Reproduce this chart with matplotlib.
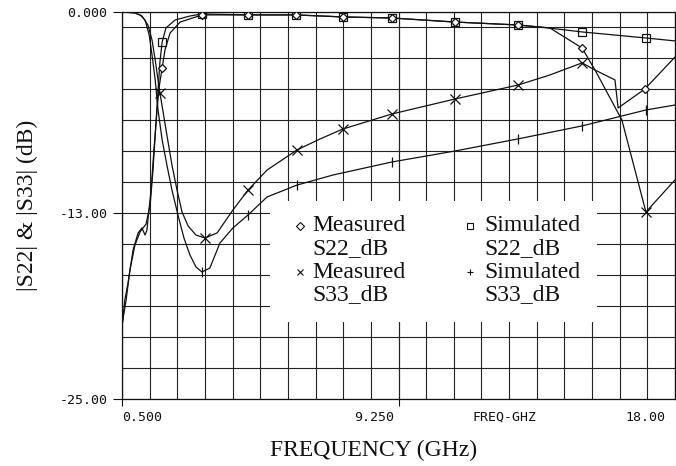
import numpy as np
import matplotlib
matplotlib.use("Agg")
import matplotlib.pyplot as plt
from matplotlib.patches import Rectangle

# traces (frequency in GHz, level in dB)
meas_s22_f = [0.50, 0.59, 0.69, 0.85, 1.01, 1.13, 1.23, 1.29, 1.32, 1.42, 1.51, 1.61, 1.67,
              1.77, 1.86, 2.02, 2.34, 3.03, 4.49, 6.00, 7.49, 9.04, 11.04, 13.03, 14.04,
              15.06, 15.47, 16.10, 16.20, 17.05, 18.0]
meas_s22_db = [-20.35, -18.60, -17.51, -15.37, -14.27, -13.95, -14.41, -14.08, -13.44, -11.50,
               -8.91, -6.33, -4.91, -3.62, -2.45, -1.36, -0.65, -0.19, -0.19, -0.19, -0.32,
               -0.39, -0.65, -0.84, -1.03, -2.33, -3.75, -4.39, -6.20, -4.97, -2.91]

sim_s22_f = [0.50, 0.63, 0.75, 0.91, 1.07, 1.26, 1.39, 1.48, 1.58, 1.64, 1.70, 1.77, 1.89,
             2.18, 2.65, 3.03, 4.49, 6.00, 7.49, 9.04, 11.04, 13.03, 13.98, 15.06, 17.08, 18.0]
sim_s22_db = [-20.22, -18.60, -16.67, -15.05, -14.21, -13.70, -12.47, -10.21, -6.98, -5.04,
              -3.23, -1.94, -1.03, -0.52, -0.26, -0.13, -0.19, -0.19, -0.32, -0.39, -0.65,
              -0.84, -1.03, -1.29, -1.68, -1.87]

meas_s33_f = [0.50, 0.91, 1.13, 1.32, 1.45, 1.55, 1.64, 1.70, 1.80, 1.92, 2.08, 2.24, 2.40,
              2.59, 2.84, 3.13, 3.51, 4.01, 4.49, 5.09, 6.04, 6.77, 7.49, 9.04, 11.04, 13.03,
              14.04, 15.06, 15.47, 16.32, 17.08, 18.0]
meas_s33_db = [0.0, -0.06, -0.26, -0.84, -1.81, -3.10, -4.39, -5.23, -6.46, -7.95, -9.88,
               -11.50, -12.92, -13.82, -14.41, -14.60, -14.27, -12.79, -11.50, -10.21, -8.91,
               -8.20, -7.56, -6.59, -5.62, -4.72, -4.07, -3.29, -3.75, -6.98, -12.92, -10.85]

sim_s33_f = [0.50, 0.91, 1.07, 1.23, 1.36, 1.45, 1.55, 1.64, 1.77, 1.92, 2.08, 2.27, 2.46,
             2.65, 2.84, 3.03, 3.28, 3.60, 4.01, 4.49, 5.09, 6.04, 7.18, 9.04, 11.04, 13.03,
             15.06, 17.08, 18.0]
sim_s33_db = [0.0, -0.06, -0.19, -0.52, -1.49, -2.78, -4.39, -6.33, -8.27, -9.88, -11.50,
              -13.11, -14.60, -15.70, -16.47, -16.80, -16.54, -14.92, -13.95, -13.11, -11.95,
              -11.18, -10.53, -9.69, -8.98, -8.20, -7.36, -6.33, -6.01]

# frequencies where the plotter put its markers
meas_s22_mk = [1.77, 3.03, 4.49, 6.00, 7.49, 9.04, 11.04, 13.03, 15.06, 17.05]
sim_s22_mk = [1.77, 3.03, 4.49, 6.00, 7.49, 9.04, 11.04, 13.03, 15.06, 17.08]
meas_s33_mk = [1.70, 3.13, 4.49, 6.04, 7.49, 9.04, 11.04, 13.03, 15.06, 17.08]
sim_s33_mk = [3.03, 4.49, 6.04, 9.04, 13.03, 15.06, 17.08]

f_start, f_stop = 0.5, 18.0
db_top, db_bot = 0.0, -25.0
x_labels = ["0.500", "9.250", "18.00"]
y_ticks = [0.0, -13.0, -25.0]
y_labels = ["0.000", "-13.00", "-25.00"]

serif = ["Liberation Serif", "DejaVu Serif"]
mono = ["DejaVu Sans Mono"]
ink = "#111111"

fig = plt.figure(figsize=(6.76, 4.66), dpi=100)
ax = fig.add_axes([0.1805, 0.1438, 0.818, 0.8305])
ax.set_xlim(f_start, f_stop)
ax.set_ylim(db_bot, db_top)

# plotter grid: 20 columns, rows every 2 dB on odd values
ax.set_xticks([0.5, 9.25])
ax.set_xticks(np.linspace(f_start, f_stop, 21), minor=True)
ax.set_yticks(y_ticks)
ax.set_yticks(np.arange(-1, -24, -2), minor=True)
ax.xaxis.remove_overlapping_locs = False
ax.grid(which="both", color="#222222", lw=0.8)
ax.set_axisbelow(True)
ax.tick_params(which="minor", length=0)
ax.tick_params(axis="x", which="major", direction="out", length=5, width=0.8,
               labelbottom=False, color=ink)
ax.tick_params(axis="y", which="major", direction="out", length=6.5, width=0.8,
               pad=4, color=ink, labelsize=9.5)
ax.set_yticklabels(y_labels, family=mono, color=ink)
for s in ax.spines.values():
    s.set_color(ink)
    s.set_linewidth(0.9)

# white box behind the legend text hides the grid
ax.add_patch(Rectangle((0.2676, 0.199), 0.5914, 0.313, transform=ax.transAxes,
                       facecolor="white", edgecolor="none", zorder=1))

lw = 0.9
ax.plot(meas_s22_f, meas_s22_db, color=ink, lw=lw, zorder=3)
ax.plot(sim_s22_f, sim_s22_db, color=ink, lw=lw, zorder=3)
ax.plot(meas_s33_f, meas_s33_db, color=ink, lw=lw, zorder=3)
ax.plot(sim_s33_f, sim_s33_db, color=ink, lw=lw, zorder=3)

ax.plot(meas_s22_mk, np.interp(meas_s22_mk, meas_s22_f, meas_s22_db), ls="none",
        marker="D", ms=4.5, mfc="white", mec=ink, mew=0.9, zorder=4)
ax.plot(sim_s22_mk, np.interp(sim_s22_mk, sim_s22_f, sim_s22_db), ls="none",
        marker="s", ms=5.5, mfc="none", mec=ink, mew=0.9, zorder=4)
ax.plot(meas_s33_mk, np.interp(meas_s33_mk, meas_s33_f, meas_s33_db), ls="none",
        marker="x", ms=6.5, mec=ink, mew=0.9, zorder=4)
ax.plot(sim_s33_mk, np.interp(sim_s33_mk, sim_s33_f, sim_s33_db), ls="none",
        marker="|", ms=6.5, mec=ink, mew=0.9, zorder=4)

# legend written by hand, two columns of two-line entries
legend_rows = [
    (0.322, 0.345, 0.447, "D", 4, ["Measured", "S22_dB"]),
    (0.322, 0.345, 0.328, "x", 5, ["Measured", "S33_dB"]),
    (0.629, 0.656, 0.447, "s", 5, ["Simulated", "S22_dB"]),
    (0.629, 0.656, 0.328, "+", 5, ["Simulated", "S33_dB"]),
]
for mx, tx, ty, mk, ms, lines in legend_rows:
    ax.plot([mx], [ty], transform=ax.transAxes, ls="none", marker=mk, ms=ms,
            mfc="none", mec=ink, mew=0.8, zorder=5, clip_on=False)
    for i, line in enumerate(lines):
        ax.text(tx, ty - i * 0.058, line, transform=ax.transAxes, ha="left",
                va="center", fontsize=17, family=serif, color=ink, zorder=5)

# frequency annotations along the bottom, plotter style
xt = ax.get_xaxis_transform()
ax.text(0.5, -0.047, x_labels[0], transform=xt, ha="left", va="center",
        fontsize=9.5, family=mono, color=ink)
ax.text(9.10, -0.047, x_labels[1], transform=xt, ha="right", va="center",
        fontsize=9.5, family=mono, color=ink)
ax.text(12.6, -0.047, "FREQ-GHZ", transform=xt, ha="center", va="center",
        fontsize=9.5, family=mono, color=ink)
ax.text(17.7, -0.047, x_labels[2], transform=xt, ha="right", va="center",
        fontsize=9.5, family=mono, color=ink)

fig.text(374 / 676, 1 - 450 / 466, "FREQUENCY (GHz)", ha="center", va="center",
         fontsize=17, family=serif, color=ink)
fig.text(27 / 676, 1 - 205 / 466, "|S22| & |S33| (dB)", ha="center", va="center",
         rotation=90, fontsize=17, family=serif, color=ink)

fig.savefig("out.png", dpi=100)
